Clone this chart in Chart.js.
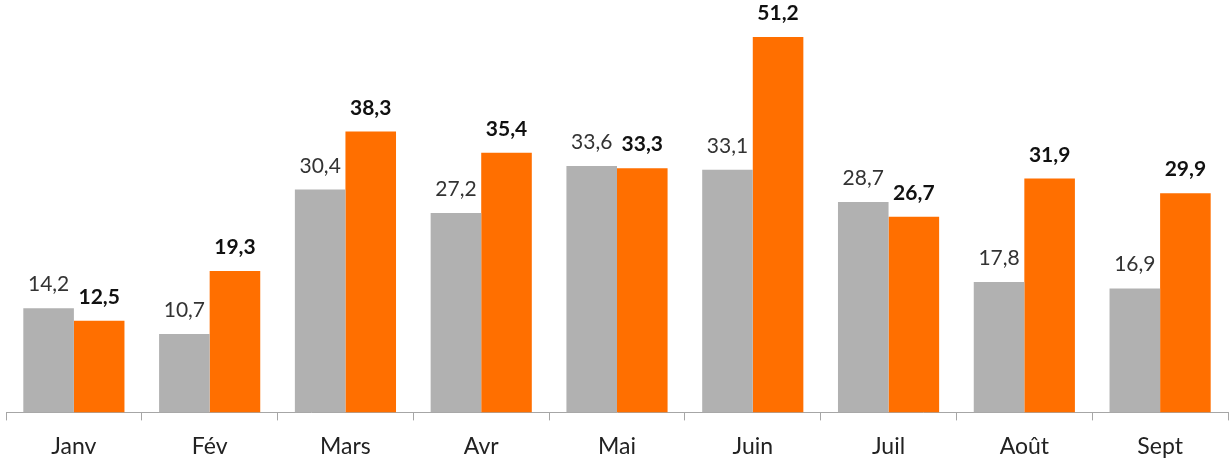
<!DOCTYPE html>
<html><head><meta charset="utf-8">
<script src="https://cdn.jsdelivr.net/npm/chart.js@4"></script>
<style>html,body{margin:0;padding:0;background:#fff}#wrap{width:1231px;height:460px}</style>
</head><body><div id="wrap"><canvas id="c"></canvas></div>
<script>
const categories = ['Janv','Fév','Mars','Avr','Mai','Juin','Juil','Août','Sept'];
const seriesGray = [14.2,10.7,30.4,27.2,33.6,33.1,28.7,17.8,16.9];
const seriesOrange = [12.5,19.3,38.3,35.4,33.3,51.2,26.7,31.9,29.9];

const fmt = v => v.toFixed(1).replace('.', ',');
const labelPlugin = {
  id: 'vlabels',
  afterDatasetsDraw(chart) {
    const ctx = chart.ctx;
    ctx.save();
    ctx.textAlign = 'center';
    ctx.textBaseline = 'alphabetic';
    chart.data.datasets.forEach((ds, di) => {
      const meta = chart.getDatasetMeta(di);
      ctx.font = (di === 1 ? 'bold ' : '') + '21px Lato';
      ctx.fillStyle = di === 1 ? '#111' : '#333';
      meta.data.forEach((bar, i) => {
        ctx.fillText(fmt(ds.data[i]), bar.x, bar.y - 17);
      });
    });
    ctx.restore();
  }
};

new Chart(document.getElementById('c'), {
  type: 'bar',
  data: {
    labels: categories,
    datasets: [
      {data: seriesGray, backgroundColor: '#B1B1B1'},
      {data: seriesOrange, backgroundColor: '#FF6F00'}
    ]
  },
  options: {
    responsive: true, maintainAspectRatio: false, animation: false,
    layout: {padding: {left: 6, right: 3, top: 0, bottom: -12}},
    plugins: {legend: {display: false}, tooltip: {enabled: false}},
    datasets: {bar: {categoryPercentage: 0.745, barPercentage: 1}},
    scales: {
      x: {
        grid: {drawOnChartArea: false, offset: true, tickLength: 8, color: '#A6A6A6'},
        border: {color: '#A6A6A6'},
        ticks: {color: '#222', font: {family: 'Lato', size: 23}, padding: 12}
      },
      y: {display: false, min: 0, max: 56.25}
    }
  },
  plugins: [labelPlugin]
});
</script></body></html>
